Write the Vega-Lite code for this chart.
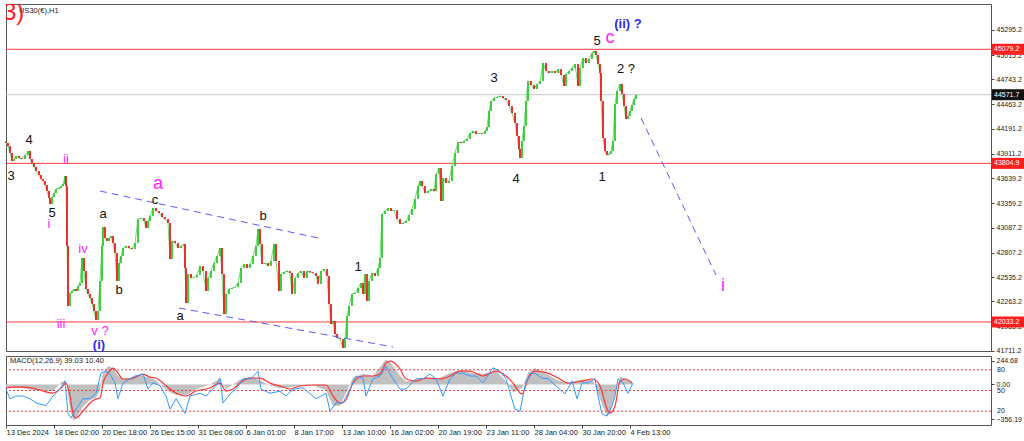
{
"$schema":"https://vega.github.io/schema/vega-lite/v6.json",
"padding":{"left":3,"top":3,"right":0,"bottom":0},
"background":"white",
"spacing":5,
"bounds":"flush",
"config":{"view":{"stroke":"#555","strokeWidth":1},"axis":{"grid":false,"labelFont":"Liberation Sans","labelFontSize":7,"labelColor":"#222","tickColor":"#444","tickSize":3,"domain":false,"labelPadding":2,"labelOverlap":false,"labelFlush":false,"labelSeparation":0},"text":{"font":"Liberation Sans"}},
"datasets":{
"candles":[{"n":0,"o":44050,"c":44032},{"n":2,"o":44032,"c":43999},{"n":4,"o":43999,"c":43921},{"n":6,"o":43921,"c":43831},{"n":8,"o":43831,"c":43854},{"n":10,"o":43854,"c":43887},{"n":13,"o":43887,"c":43865},{"n":16,"o":43865,"c":43854},{"n":19,"o":43854,"c":43898},{"n":22,"o":43898,"c":43943},{"n":24,"o":43943,"c":43854},{"n":26,"o":43854,"c":43809},{"n":28,"o":43809,"c":43764},{"n":30,"o":43764,"c":43720},{"n":33,"o":43720,"c":43675},{"n":35,"o":43675,"c":43630},{"n":37,"o":43630,"c":43608},{"n":39,"o":43608,"c":43563},{"n":41,"o":43563,"c":43496},{"n":43,"o":43496,"c":43418},{"n":44,"o":43418,"c":43351},{"n":46,"o":43351,"c":43429},{"n":48,"o":43429,"c":43474},{"n":50,"o":43474,"c":43519},{"n":53,"o":43519,"c":43530},{"n":55,"o":43530,"c":43552},{"n":57,"o":43552,"c":43574},{"n":59,"o":43574,"c":43664},{"n":60,"o":43664,"c":43552},{"n":61,"o":43552,"c":42882},{"n":62,"o":42882,"c":42212},{"n":64,"o":42212,"c":42357},{"n":66,"o":42357,"c":42379},{"n":68,"o":42379,"c":42402},{"n":70,"o":42402,"c":42379},{"n":72,"o":42379,"c":42435},{"n":74,"o":42435,"c":42469},{"n":76,"o":42469,"c":42748},{"n":78,"o":42748,"c":42603},{"n":80,"o":42603,"c":42402},{"n":82,"o":42402,"c":42346},{"n":84,"o":42346,"c":42301},{"n":86,"o":42301,"c":42234},{"n":88,"o":42234,"c":42156},{"n":90,"o":42156,"c":42055},{"n":92,"o":42055,"c":42156},{"n":94,"o":42156,"c":42491},{"n":96,"o":42491,"c":42882},{"n":97,"o":42882,"c":43094},{"n":99,"o":43094,"c":42971},{"n":101,"o":42971,"c":42938},{"n":103,"o":42938,"c":42971},{"n":105,"o":42971,"c":42994},{"n":107,"o":42994,"c":42915},{"n":109,"o":42915,"c":42804},{"n":111,"o":42804,"c":42491},{"n":113,"o":42491,"c":42692},{"n":115,"o":42692,"c":42770},{"n":117,"o":42770,"c":42860},{"n":120,"o":42860,"c":42882},{"n":123,"o":42882,"c":42860},{"n":126,"o":42860,"c":42848},{"n":129,"o":42848,"c":42915},{"n":132,"o":42915,"c":43183},{"n":135,"o":43183,"c":43195},{"n":138,"o":43195,"c":43161},{"n":140,"o":43161,"c":43083},{"n":142,"o":43083,"c":43161},{"n":144,"o":43161,"c":43217},{"n":147,"o":43217,"c":43306},{"n":150,"o":43306,"c":43273},{"n":153,"o":43273,"c":43250},{"n":156,"o":43250,"c":43206},{"n":159,"o":43206,"c":43183},{"n":162,"o":43183,"c":43139},{"n":164,"o":43139,"c":42737},{"n":166,"o":42737,"c":42938},{"n":169,"o":42938,"c":42915},{"n":172,"o":42915,"c":42860},{"n":175,"o":42860,"c":42882},{"n":178,"o":42882,"c":42904},{"n":179,"o":42904,"c":42636},{"n":180,"o":42636,"c":42245},{"n":182,"o":42245,"c":42569},{"n":185,"o":42569,"c":42524},{"n":188,"o":42524,"c":42530},{"n":191,"o":42530,"c":42558},{"n":194,"o":42558,"c":42658},{"n":197,"o":42658,"c":42603},{"n":200,"o":42603,"c":42379},{"n":202,"o":42379,"c":42524},{"n":205,"o":42524,"c":42603},{"n":208,"o":42603,"c":42692},{"n":211,"o":42692,"c":42770},{"n":214,"o":42770,"c":42860},{"n":216,"o":42860,"c":42569},{"n":218,"o":42569,"c":42122},{"n":220,"o":42122,"c":42346},{"n":223,"o":42346,"c":42402},{"n":226,"o":42402,"c":42413},{"n":229,"o":42413,"c":42420},{"n":232,"o":42420,"c":42469},{"n":235,"o":42469,"c":42636},{"n":238,"o":42636,"c":42681},{"n":241,"o":42681,"c":42636},{"n":244,"o":42636,"c":42681},{"n":247,"o":42681,"c":42770},{"n":250,"o":42770,"c":42882},{"n":252,"o":42882,"c":43072},{"n":254,"o":43072,"c":42904},{"n":256,"o":42904,"c":42681},{"n":259,"o":42681,"c":42692},{"n":262,"o":42692,"c":42658},{"n":265,"o":42658,"c":42714},{"n":268,"o":42714,"c":42904},{"n":270,"o":42904,"c":42714},{"n":273,"o":42714,"c":42379},{"n":275,"o":42379,"c":42569},{"n":278,"o":42569,"c":42591},{"n":281,"o":42591,"c":42603},{"n":284,"o":42603,"c":42580},{"n":286,"o":42580,"c":42346},{"n":289,"o":42346,"c":42524},{"n":292,"o":42524,"c":42580},{"n":295,"o":42580,"c":42603},{"n":298,"o":42603,"c":42524},{"n":301,"o":42524,"c":42603},{"n":304,"o":42603,"c":42590},{"n":307,"o":42590,"c":42580},{"n":310,"o":42580,"c":42547},{"n":312,"o":42547,"c":42457},{"n":315,"o":42457,"c":42603},{"n":318,"o":42603,"c":42625},{"n":321,"o":42625,"c":42547},{"n":323,"o":42547,"c":42234},{"n":325,"o":42234,"c":42011},{"n":327,"o":42011,"c":42044},{"n":329,"o":42044,"c":41899},{"n":331,"o":41899,"c":41854},{"n":334,"o":41854,"c":41843},{"n":337,"o":41843,"c":41743},{"n":339,"o":41743,"c":41854},{"n":341,"o":41854,"c":42100},{"n":343,"o":42100,"c":42212},{"n":346,"o":42212,"c":42346},{"n":349,"o":42346,"c":42357},{"n":352,"o":42357,"c":42413},{"n":355,"o":42413,"c":42469},{"n":357,"o":42469,"c":42346},{"n":359,"o":42346,"c":42569},{"n":361,"o":42569,"c":42268},{"n":363,"o":42268,"c":42491},{"n":366,"o":42491,"c":42580},{"n":369,"o":42580,"c":42547},{"n":372,"o":42547,"c":42636},{"n":374,"o":42636,"c":42748},{"n":376,"o":42748,"c":43239},{"n":379,"o":43239,"c":43273},{"n":382,"o":43273,"c":43306},{"n":385,"o":43306,"c":43273},{"n":388,"o":43273,"c":43280},{"n":391,"o":43280,"c":43183},{"n":394,"o":43183,"c":43128},{"n":397,"o":43128,"c":43139},{"n":400,"o":43139,"c":43161},{"n":403,"o":43161,"c":43228},{"n":406,"o":43228,"c":43295},{"n":409,"o":43295,"c":43407},{"n":412,"o":43407,"c":43552},{"n":414,"o":43552,"c":43608},{"n":416,"o":43608,"c":43552},{"n":419,"o":43552,"c":43474},{"n":422,"o":43474,"c":43496},{"n":425,"o":43496,"c":43519},{"n":428,"o":43519,"c":43496},{"n":430,"o":43496,"c":43686},{"n":433,"o":43686,"c":43753},{"n":435,"o":43753,"c":43385},{"n":437,"o":43385,"c":43641},{"n":440,"o":43641,"c":43586},{"n":443,"o":43586,"c":43608},{"n":446,"o":43608,"c":43775},{"n":449,"o":43775,"c":43921},{"n":452,"o":43921,"c":44044},{"n":455,"o":44044,"c":44032},{"n":458,"o":44032,"c":44055},{"n":461,"o":44055,"c":44077},{"n":464,"o":44077,"c":44144},{"n":467,"o":44144,"c":44166},{"n":470,"o":44166,"c":44133},{"n":473,"o":44133,"c":44140},{"n":476,"o":44140,"c":44133},{"n":479,"o":44133,"c":44166},{"n":481,"o":44166,"c":44211},{"n":483,"o":44211,"c":44390},{"n":485,"o":44390,"c":44502},{"n":488,"o":44502,"c":44535},{"n":491,"o":44535,"c":44546},{"n":494,"o":44546,"c":44557},{"n":497,"o":44557,"c":44535},{"n":500,"o":44535,"c":44513},{"n":503,"o":44513,"c":44446},{"n":506,"o":44446,"c":44368},{"n":509,"o":44368,"c":44256},{"n":511,"o":44256,"c":44111},{"n":513,"o":44111,"c":43965},{"n":514,"o":43965,"c":43865},{"n":516,"o":43865,"c":44055},{"n":518,"o":44055,"c":44222},{"n":520,"o":44222,"c":44502},{"n":522,"o":44502,"c":44725},{"n":525,"o":44725,"c":44680},{"n":528,"o":44680,"c":44636},{"n":531,"o":44636,"c":44691},{"n":534,"o":44691,"c":44725},{"n":537,"o":44725,"c":44926},{"n":540,"o":44926,"c":44837},{"n":543,"o":44837,"c":44814},{"n":546,"o":44814,"c":44837},{"n":549,"o":44837,"c":44814},{"n":552,"o":44814,"c":44859},{"n":555,"o":44859,"c":44792},{"n":558,"o":44792,"c":44669},{"n":560,"o":44669,"c":44803},{"n":563,"o":44803,"c":44837},{"n":566,"o":44837,"c":44870},{"n":569,"o":44870,"c":44915},{"n":572,"o":44915,"c":44669},{"n":574,"o":44669,"c":44870},{"n":577,"o":44870,"c":44982},{"n":580,"o":44982,"c":44926},{"n":583,"o":44926,"c":44971},{"n":586,"o":44971,"c":45038},{"n":588,"o":45038,"c":45060},{"n":590,"o":45060,"c":45015},{"n":592,"o":45015,"c":44915},{"n":594,"o":44915,"c":44814},{"n":595,"o":44814,"c":44502},{"n":597,"o":44502,"c":44088},{"n":599,"o":44088,"c":43943},{"n":601,"o":43943,"c":43898},{"n":603,"o":43898,"c":43910},{"n":605,"o":43910,"c":43943},{"n":607,"o":43943,"c":44055},{"n":609,"o":44055,"c":44468},{"n":611,"o":44468,"c":44613},{"n":614,"o":44613,"c":44691},{"n":616,"o":44691,"c":44580},{"n":618,"o":44580,"c":44446},{"n":620,"o":44446,"c":44300},{"n":622,"o":44300,"c":44334},{"n":624,"o":44334,"c":44390},{"n":626,"o":44390,"c":44457},{"n":628,"o":44457,"c":44524},{"n":630,"o":44524,"c":44572}],
"levels":[{"p":45079.2,"g":"r"},{"p":43804.9,"g":"r"},{"p":42033.2,"g":"r"},{"p":44571.7,"g":"k"}],
"dash":[{"id":"u","n":94,"p":43496},{"id":"u","n":312,"p":42971},{"id":"l","n":173,"p":42189},{"id":"l","n":387,"p":41754},{"id":"f","n":635,"p":44312},{"id":"f","n":710,"p":42558}],
"labels":[{"n":5,"p":43664,"t":"3","g":"k"},{"n":23,"p":44066,"t":"4","g":"k"},{"n":46,"p":43250,"t":"5","g":"k"},{"n":97,"p":43239,"t":"a","g":"k"},{"n":113,"p":42391,"t":"b","g":"k"},{"n":149,"p":43396,"t":"c","g":"k"},{"n":257,"p":43217,"t":"b","g":"k"},{"n":174,"p":42100,"t":"a","g":"k"},{"n":352,"p":42647,"t":"1","g":"k"},{"n":488,"p":44758,"t":"3","g":"k"},{"n":510,"p":43630,"t":"4","g":"k"},{"n":591,"p":45172,"t":"5","g":"k"},{"n":620,"p":44859,"t":"2 ?","g":"k"},{"n":596,"p":43653,"t":"1","g":"k"},{"n":60,"p":43854,"t":"ii","g":"m"},{"n":43,"p":43128,"t":"i","g":"m"},{"n":77,"p":42848,"t":"iv","g":"m"},{"n":55,"p":42011,"t":"iii","g":"m"},{"n":94,"p":41932,"t":"v ?","g":"m"},{"n":152,"p":43574,"t":"a","g":"M"},{"n":604,"p":45205,"t":"c","g":"M"},{"n":717,"p":42435,"t":"i","g":"M"},{"n":93,"p":41780,"t":"(i)","g":"b"},{"n":622,"p":45367,"t":"(ii) ?","g":"b"}],
"macd":[{"n":0,"h":-30,"s":-37},{"n":7,"h":-30,"s":-27},{"n":17,"h":-40,"s":-27},{"n":30,"h":-60,"s":-47},{"n":47,"h":-70,"s":-89},{"n":55,"h":20,"s":-37},{"n":60,"h":40,"s":14},{"n":64,"h":-250,"s":-119},{"n":67,"h":-370,"s":-295},{"n":70,"h":-360,"s":-346},{"n":77,"h":-230,"s":-274},{"n":84,"h":-160,"s":-192},{"n":90,"h":-140,"s":-150},{"n":94,"h":-60,"s":-140},{"n":97,"h":120,"s":14},{"n":102,"h":190,"s":117},{"n":107,"h":170,"s":169},{"n":112,"h":90,"s":117},{"n":117,"h":60,"s":56},{"n":124,"h":70,"s":56},{"n":130,"h":100,"s":76},{"n":137,"h":90,"s":107},{"n":144,"h":70,"s":76},{"n":150,"h":40,"s":66},{"n":157,"h":-30,"s":14},{"n":164,"h":-80,"s":-47},{"n":170,"h":-110,"s":-89},{"n":180,"h":-110,"s":-119},{"n":190,"h":-50,"s":-68},{"n":204,"h":0,"s":-37},{"n":214,"h":60,"s":14},{"n":220,"h":-50,"s":-68},{"n":227,"h":0,"s":-47},{"n":234,"h":50,"s":14},{"n":244,"h":80,"s":66},{"n":254,"h":40,"s":66},{"n":264,"h":-10,"s":14},{"n":274,"h":-40,"s":-16},{"n":284,"h":-30,"s":-47},{"n":294,"h":-10,"s":-16},{"n":307,"h":-10,"s":-6},{"n":320,"h":-60,"s":-6},{"n":327,"h":-220,"s":-119},{"n":334,"h":-220,"s":-192},{"n":339,"h":-110,"s":-171},{"n":347,"h":70,"s":14},{"n":357,"h":110,"s":87},{"n":367,"h":90,"s":87},{"n":374,"h":180,"s":107},{"n":380,"h":260,"s":220},{"n":385,"h":220,"s":241},{"n":394,"h":90,"s":159},{"n":400,"h":30,"s":56},{"n":410,"h":50,"s":35},{"n":420,"h":70,"s":66},{"n":434,"h":70,"s":56},{"n":444,"h":120,"s":87},{"n":454,"h":150,"s":138},{"n":464,"h":120,"s":138},{"n":477,"h":110,"s":87},{"n":490,"h":140,"s":138},{"n":500,"h":30,"s":87},{"n":507,"h":-80,"s":14},{"n":516,"h":-40,"s":-99},{"n":522,"h":120,"s":56},{"n":529,"h":170,"s":138},{"n":542,"h":100,"s":117},{"n":552,"h":40,"s":66},{"n":562,"h":20,"s":14},{"n":576,"h":50,"s":35},{"n":587,"h":40,"s":56},{"n":594,"h":-150,"s":-16},{"n":601,"h":-330,"s":-253},{"n":604,"h":-300,"s":-295},{"n":609,"h":-100,"s":-222},{"n":614,"h":80,"s":35},{"n":619,"h":60,"s":56},{"n":626,"h":30,"s":14}],
"blue":[{"n":0,"v":52},{"n":4,"v":38},{"n":10,"v":42},{"n":17,"v":42},{"n":24,"v":38},{"n":30,"v":32},{"n":40,"v":28},{"n":47,"v":42},{"n":54,"v":52},{"n":59,"v":64},{"n":62,"v":17},{"n":65,"v":10},{"n":70,"v":23},{"n":77,"v":38},{"n":84,"v":38},{"n":90,"v":46},{"n":95,"v":75},{"n":99,"v":78},{"n":104,"v":74},{"n":109,"v":61},{"n":112,"v":38},{"n":117,"v":61},{"n":124,"v":67},{"n":130,"v":71},{"n":137,"v":74},{"n":142,"v":52},{"n":147,"v":61},{"n":154,"v":57},{"n":160,"v":42},{"n":164,"v":23},{"n":170,"v":38},{"n":179,"v":17},{"n":184,"v":42},{"n":194,"v":46},{"n":200,"v":42},{"n":210,"v":57},{"n":214,"v":68},{"n":217,"v":32},{"n":224,"v":45},{"n":230,"v":52},{"n":237,"v":67},{"n":245,"v":67},{"n":252,"v":78},{"n":255,"v":52},{"n":264,"v":46},{"n":274,"v":49},{"n":280,"v":42},{"n":287,"v":52},{"n":297,"v":54},{"n":310,"v":38},{"n":320,"v":46},{"n":324,"v":20},{"n":330,"v":32},{"n":337,"v":32},{"n":344,"v":52},{"n":350,"v":71},{"n":357,"v":68},{"n":360,"v":42},{"n":367,"v":67},{"n":374,"v":71},{"n":380,"v":85},{"n":387,"v":67},{"n":394,"v":52},{"n":400,"v":52},{"n":410,"v":67},{"n":417,"v":67},{"n":424,"v":74},{"n":430,"v":67},{"n":437,"v":42},{"n":444,"v":67},{"n":450,"v":75},{"n":457,"v":75},{"n":464,"v":71},{"n":470,"v":71},{"n":477,"v":61},{"n":487,"v":83},{"n":494,"v":78},{"n":500,"v":67},{"n":507,"v":32},{"n":509,"v":23},{"n":514,"v":20},{"n":519,"v":57},{"n":524,"v":75},{"n":529,"v":75},{"n":536,"v":68},{"n":542,"v":67},{"n":552,"v":54},{"n":559,"v":45},{"n":566,"v":64},{"n":571,"v":38},{"n":576,"v":61},{"n":582,"v":61},{"n":589,"v":67},{"n":592,"v":42},{"n":596,"v":16},{"n":601,"v":13},{"n":606,"v":28},{"n":609,"v":42},{"n":612,"v":67},{"n":617,"v":61},{"n":622,"v":46},{"n":627,"v":61}],
"osc":[{"lv":80},{"lv":50},{"lv":20}]
},
"vconcat":[
{"width":985,"height":347,
"resolve":{"axis":{"y":"independent"}},
"layer":[
{"data":{"name":"levels"},"transform":[{"filter":"datum.g=='r'"}],"mark":{"type":"rule","color":"#ff3b3b","strokeWidth":1},
"encoding":{"y":{"field":"p","type":"quantitative","scale":{"domain":[41709,45585],"nice":false,"zero":false},"axis":{"orient":"right","title":null,"values":[45295.2,45015.2,44743.2,44463.2,44191.2,43911.2,43639.2,43359.2,43087.2,42807.2,42535.2,42263.2,41983.2,41711.2],"format":".1f","labelOverlap":false,"labelFlush":false}}}},
{"data":{"name":"levels"},"transform":[{"filter":"datum.g=='k'"}],"mark":{"type":"rule","color":"#c8c8c8","strokeWidth":1},
"encoding":{"y":{"field":"p","type":"quantitative","axis":null}}},
{"data":{"name":"candles"},"mark":{"type":"line","color":"#7ad97a","strokeWidth":1},
"encoding":{"x":{"field":"n","type":"quantitative","scale":{"domain":[0,985],"nice":false,"zero":false},"axis":null},
"y":{"field":"c","type":"quantitative","axis":null}}},
{"data":{"name":"candles"},"mark":{"type":"rule","strokeWidth":1.8},
"encoding":{"x":{"field":"n","type":"quantitative","scale":{"domain":[0,985],"nice":false,"zero":false},"axis":null},
"y":{"field":"o","type":"quantitative","axis":null},"y2":{"field":"c"},
"color":{"condition":{"test":"datum.c>=datum.o","value":"#2ccb2c"},"value":"#ee1c1c"}}},
{"data":{"name":"dash"},"mark":{"type":"line","color":"#5b5bff","strokeWidth":1,"strokeDash":[7,5]},
"encoding":{"x":{"field":"n","type":"quantitative","scale":{"domain":[0,985],"nice":false,"zero":false},"axis":null},"y":{"field":"p","type":"quantitative","axis":null},"detail":{"field":"id"}}},
{"data":{"name":"labels"},"transform":[{"filter":"datum.g=='k'"}],"mark":{"type":"text","fontSize":13,"color":"#111","baseline":"middle","align":"center"},
"encoding":{"x":{"field":"n","type":"quantitative","scale":{"domain":[0,985],"nice":false,"zero":false},"axis":null},"y":{"field":"p","type":"quantitative","axis":null},"text":{"field":"t"}}},
{"data":{"name":"labels"},"transform":[{"filter":"datum.g=='m'"}],"mark":{"type":"text","fontSize":13,"color":"#ff22ff","baseline":"middle","align":"center"},
"encoding":{"x":{"field":"n","type":"quantitative","scale":{"domain":[0,985],"nice":false,"zero":false},"axis":null},"y":{"field":"p","type":"quantitative","axis":null},"text":{"field":"t"}}},
{"data":{"name":"labels"},"transform":[{"filter":"datum.g=='M'"}],"mark":{"type":"text","fontSize":18,"color":"#ff22ff","baseline":"middle","align":"center"},
"encoding":{"x":{"field":"n","type":"quantitative","scale":{"domain":[0,985],"nice":false,"zero":false},"axis":null},"y":{"field":"p","type":"quantitative","axis":null},"text":{"field":"t"}}},
{"data":{"name":"labels"},"transform":[{"filter":"datum.g=='b'"}],"mark":{"type":"text","fontSize":13,"fontWeight":"bold","color":"#2b2be8","baseline":"middle","align":"center"},
"encoding":{"x":{"field":"n","type":"quantitative","scale":{"domain":[0,985],"nice":false,"zero":false},"axis":null},"y":{"field":"p","type":"quantitative","axis":null},"text":{"field":"t"}}},
{"data":{"name":"levels"},"mark":{"type":"rule","strokeWidth":11,"strokeCap":"butt"},
"encoding":{"x":{"datum":986,"type":"quantitative","scale":{"domain":[0,985],"nice":false,"zero":false},"axis":null},"x2":{"datum":1018},"y":{"field":"p","type":"quantitative","axis":null},
"color":{"condition":{"test":"datum.g=='r'","value":"#ff1f1f"},"value":"#111111"}}},
{"data":{"name":"levels"},"mark":{"type":"text","fontSize":7,"color":"white","align":"left","baseline":"middle"},
"encoding":{"x":{"datum":988,"type":"quantitative","scale":{"domain":[0,985],"nice":false,"zero":false},"axis":null},"y":{"field":"p","type":"quantitative","axis":null},"text":{"field":"p","type":"quantitative","format":".1f"}}},
{"data":{"values":[{"t":"US30(€),H1"}]},"mark":{"type":"text","fontSize":7.5,"color":"#222","align":"left","baseline":"middle"},
"encoding":{"x":{"datum":13,"type":"quantitative","scale":{"domain":[0,985],"nice":false,"zero":false},"axis":null},"y":{"datum":45507,"type":"quantitative","axis":null},"text":{"field":"t"}}},
{"data":{"values":[{"t":"3)"}]},"mark":{"type":"text","fontSize":24,"color":"#ff1a1a","align":"left","baseline":"middle","clip":true},
"encoding":{"x":{"datum":-3,"type":"quantitative","scale":{"domain":[0,985],"nice":false,"zero":false},"axis":null},"y":{"datum":45490,"type":"quantitative","axis":null},"text":{"field":"t"}}}
]},
{"width":985,"height":69,
"resolve":{"scale":{"y":"independent"},"axis":{"y":"independent"}},
"layer":[
{"data":{"name":"macd"},"mark":{"type":"area","color":"#c0c0c0"},
"encoding":{"x":{"field":"n","type":"quantitative","scale":{"domain":[0,985],"nice":false,"zero":false},"axis":{"title":null,"values":[0,48,96,144,192,240,288,336,384,432,480,528,576,624],"labelExpr":"['13 Dec 2024','18 Dec 02:00','20 Dec 18:00','26 Dec 15:00','31 Dec 08:00','6 Jan 01:00','8 Jan 17:00','13 Jan 10:00','16 Jan 02:00','20 Jan 19:00','23 Jan 11:00','28 Jan 04:00','30 Jan 20:00','4 Feb 13:00'][round(datum.value/48)]","labelAlign":"left","labelPadding":0,"tickSize":3,"labelFontSize":7.5,"labelFlush":false,"labelOverlap":false}},
"y":{"field":"h","type":"quantitative","scale":{"domain":[-418,293],"nice":false,"zero":false},"axis":{"orient":"right","title":null,"values":[244.68,0,-356.19],"format":".2f","labelOverlap":false,"labelFlush":false}},
"y2":{"datum":0}}},
{"data":{"name":"macd"},"mark":{"type":"line","color":"#ff3333","strokeWidth":1.2,"interpolate":"monotone"},
"encoding":{"x":{"field":"n","type":"quantitative","title":null},"y":{"field":"s","type":"quantitative","scale":{"domain":[-418,293],"nice":false,"zero":false},"axis":null}}},
{"data":{"name":"osc"},"mark":{"type":"rule","color":"#ff4040","strokeWidth":1,"strokeDash":[2,2]},
"encoding":{"y":{"field":"lv","type":"quantitative","scale":{"domain":[0,100],"nice":false,"zero":false},"axis":null}}},
{"data":{"name":"blue"},"mark":{"type":"line","color":"#3399ff","strokeWidth":1},
"encoding":{"x":{"field":"n","type":"quantitative","title":null},"y":{"field":"v","type":"quantitative","scale":{"domain":[0,100],"nice":false,"zero":false},"axis":null}}},
{"data":{"name":"osc"},"mark":{"type":"text","fontSize":7,"color":"#222","align":"left","baseline":"middle","dx":6},
"encoding":{"x":{"datum":985,"type":"quantitative","title":null},"y":{"field":"lv","type":"quantitative","scale":{"domain":[0,100],"nice":false,"zero":false},"axis":null},"text":{"field":"lv"}}},
{"data":{"values":[{"t":"MACD(12,26,9) 39.03 10.40"}]},"mark":{"type":"text","fontSize":7.5,"color":"#222","align":"left","baseline":"middle"},
"encoding":{"x":{"datum":4,"type":"quantitative","title":null},"y":{"datum":240,"type":"quantitative","scale":{"domain":[-418,293],"nice":false,"zero":false},"axis":null},"text":{"field":"t"}}}
]}
]
}
